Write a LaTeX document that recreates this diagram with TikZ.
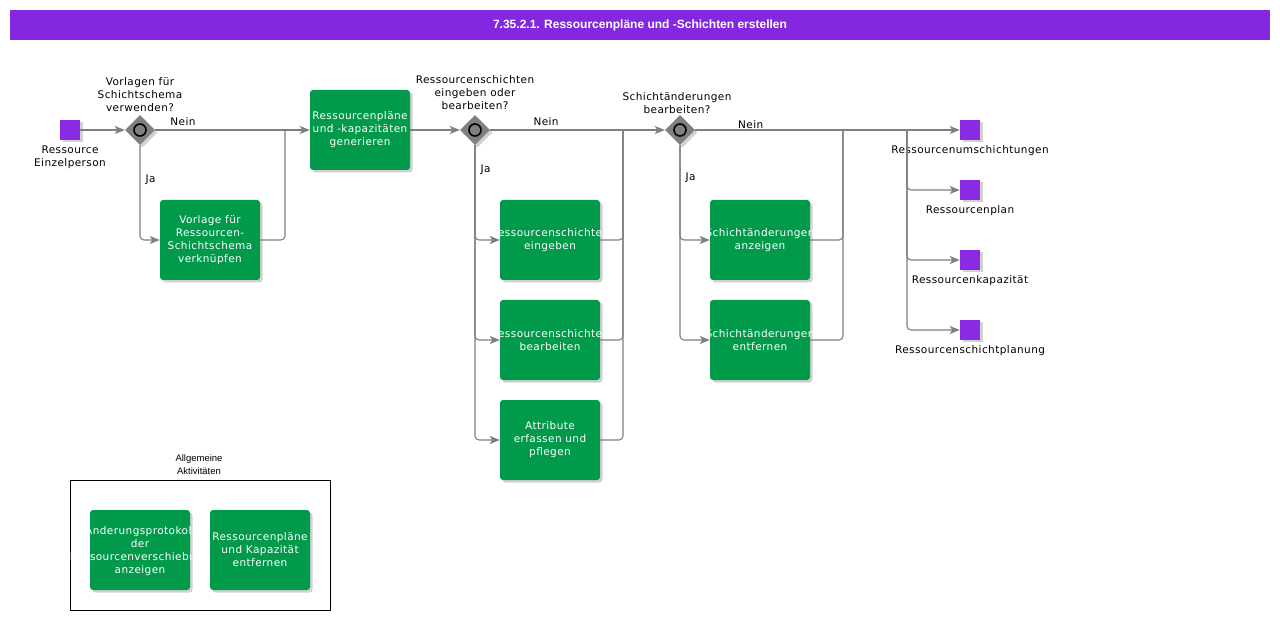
\documentclass[tikz,border=0pt]{standalone}
\usepackage{fontspec}
\newfontfamily\diafont{DejaVu Sans}[LetterSpace=4]
\newfontfamily\headfont{Liberation Sans}
\usetikzlibrary{positioning,shapes.geometric,shadows,arrows.meta}
\definecolor{headpurple}{HTML}{8427E0}
\definecolor{evpurple}{HTML}{8A2BE2}
\definecolor{taskgreen}{HTML}{009A4A}
\definecolor{gategrey}{HTML}{808080}
\definecolor{flowgrey}{HTML}{7F7F7F}
\tikzset{
  shad/.style={drop shadow={shadow xshift=2.5pt, shadow yshift=-2.5pt, fill=black!40, opacity=.45}},
  task/.style={rectangle, rounded corners=3pt, fill=taskgreen, text=white, shad,
    minimum width=100pt, minimum height=80pt, inner xsep=-40pt, inner ysep=0pt, align=center,
    font=\diafont\fontsize{10.5}{13}\selectfont},
  event/.style={rectangle, fill=evpurple, minimum size=20pt, inner sep=0pt, shad},
  gate/.style={diamond, fill=gategrey, minimum size=30pt, inner sep=0pt, shad},
  lbl/.style={inner sep=0pt, align=center, font=\diafont\fontsize{10.5}{13}\selectfont},
  flow/.style={draw=flowgrey, line width=1.1pt, rounded corners=4pt,
    -{Stealth[length=10pt, width=8pt, inset=2.5pt]}},
  merge/.style={draw=flowgrey, line width=1.1pt, rounded corners=4pt},
}
\begin{document}
\begin{tikzpicture}[x=1pt, y=-1pt]
\useasboundingbox[fill=white] (0,0) rectangle (1280,620);
% title bar
\node[fill=headpurple, minimum width=1260pt, minimum height=30pt, inner sep=0pt,
  text=white, font=\headfont\bfseries\fontsize{12}{14}\selectfont] (head) at (640,25)
  {7.35.2.1. Ressourcenpläne und -Schichten erstellen};

% events and gateways
\node[event] (start) at (70,130) {};
\node[lbl, below=5pt of start] (startlbl) {Ressource\\Einzelperson};
\node[gate] (gw1) at (140,130) {};
\node[gate] (gw2) at (475,130) {};
\node[gate] (gw3) at (680,130) {};
\foreach \g in {gw1,gw2,gw3} \draw[line width=1.6pt] (\g) circle (6pt);
\node[lbl, above=3pt of gw1] {Vorlagen für\\Schichtschema\\verwenden?};
\node[lbl, above=5pt of gw2] {Ressourcenschichten\\eingeben oder\\bearbeiten?};
\node[lbl, above=1pt of gw3, xshift=-3pt] {Schichtänderungen\\bearbeiten?};

% tasks
\node[task] (gen) at (360,130) {Ressourcenpläne\\und -kapazitäten\\generieren};
\node[task] (tmpl) at (210,240) {Vorlage für\\Ressourcen-\\Schichtschema\\verknüpfen};
\node[task] (enter) at (550,240) {Ressourcenschichten\\eingeben};
\node[task] (edit) at (550,340) {Ressourcenschichten\\bearbeiten};
\node[task] (attr) at (550,440) {Attribute\\erfassen und\\pflegen};
\node[task] (show) at (760,240) {Schichtänderungen\\anzeigen};
\node[task] (drop) at (760,340) {Schichtänderungen\\entfernen};

% end events
\node[event] (end1) at (970,130) {};
\node[event] (end2) at (970,190) {};
\node[event] (end3) at (970,260) {};
\node[event] (end4) at (970,330) {};
\node[lbl, below=5pt of end1] {Ressourcenumschichtungen};
\node[lbl, below=5pt of end2] {Ressourcenplan};
\node[lbl, below=5pt of end3] {Ressourcenkapazität};
\node[lbl, below=5pt of end4] {Ressourcenschichtplanung};

% join and split points
\coordinate (m1) at (285,130);
\coordinate (m2) at (623,130);
\coordinate (m3) at (843,130);
\coordinate (s1) at (907,130);

% flows
\draw[flow] (start) -- (gw1.west);
\draw[flow] (gw1.east) -- node[lbl, above=4pt, pos=.18] {Nein} (gen.west);
\draw[flow] (gw1.south) |- node[lbl, pos=.18, right=5pt] {Ja} (tmpl.west);
\draw[merge] (tmpl.east) -| (m1);
\draw[flow] (gen.east) -- (gw2.west);
\draw[flow] (gw2.east) -- node[lbl, above=4pt, pos=.32] {Nein} (gw3.west);
\draw[flow] (gw2.south) |- node[lbl, pos=.13, right=5pt] {Ja} (enter.west);
\draw[flow] (gw2.south) |- (edit.west);
\draw[flow] (gw2.south) |- (attr.west);
\foreach \t in {enter,edit,attr} \draw[merge] (\t.east) -| (m2);
\draw[flow] (gw3.east) -- node[lbl, above=1pt, pos=.21] {Nein} (end1.west);
\draw[flow] (gw3.south) |- node[lbl, pos=.17, right=5pt] {Ja} (show.west);
\draw[flow] (gw3.south) |- (drop.west);
\foreach \t in {show,drop} \draw[merge] (\t.east) -| (m3);
\draw[flow] (s1) |- (end2.west);
\draw[flow] (s1) |- (end3.west);
\draw[flow] (s1) |- (end4.west);

% general activities group
\node[draw=black, line width=0.8pt, minimum width=260pt, minimum height=130pt, inner sep=0pt]
  (grp) at (200,545) {};
\node[lbl, font=\headfont\fontsize{9.5}{13}\selectfont, above=5pt of grp, xshift=-1pt]
  {Allgemeine\\Aktivitäten};
\node[task] (log) at (140,550) {Änderungsprotokoll\\der\\Ressourcenverschiebung\\anzeigen};
\node[task] (del) at (260,550) {Ressourcenpläne\\und Kapazität\\entfernen};
\end{tikzpicture}
\end{document}
